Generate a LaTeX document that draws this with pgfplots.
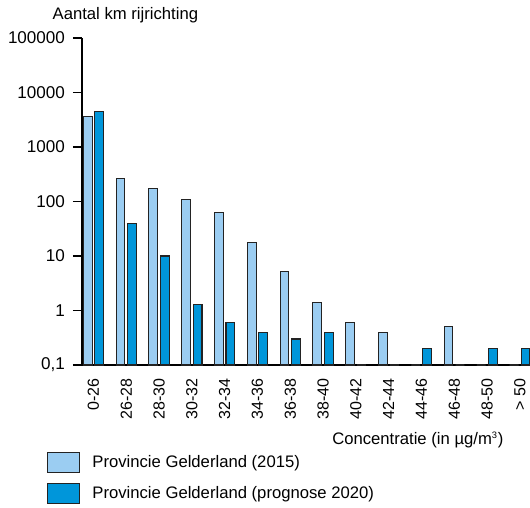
\documentclass[border=0pt]{standalone}
\usepackage{pgfplots}
\pgfplotsset{compat=1.18}
\usepackage{fontspec}
\setmainfont{Liberation Sans}
\definecolor{lightbar}{RGB}{155,205,242}
\definecolor{darkbar}{RGB}{0,150,218}
\definecolor{edge}{RGB}{35,35,35}

\begin{document}
\begin{tikzpicture}
\useasboundingbox (0,0) rectangle (397.5pt,380.25pt);
\begin{axis}[
    at={(61.5pt,106.5pt)}, anchor=south west,
    scale only axis,
    width=336pt, height=245.25pt,
    ymode=log, log origin y=infty,
    ymin=0.1, ymax=100000,
    xmin=-0.35, xmax=13.31,
    ybar=2pt, bar width=6.6pt,
    clip=false,
    axis lines*=left,
    axis line style={line width=1pt, black},
    xtick={0,...,13},
    xticklabels={0-26,26-28,28-30,30-32,32-34,34-36,36-38,38-40,40-42,42-44,44-46,46-48,48-50,> 50},
    xtick style={draw=none},
    xticklabel style={rotate=90, anchor=east, font=\fontsize{12}{14}\selectfont},
    ytick={0.1,1,10,100,1000,10000,100000},
    yticklabels={{0,1},1,10,100,1000,10000,100000},
    ytick style={line width=1pt, black},
    yticklabel style={font=\fontsize{12.8}{15}\selectfont, xshift=-2.5pt},
    yminorticks=false,
    tick align=outside, major tick length=6.75pt,
    ylabel={Aantal km rijrichting},
    ylabel style={rotate=-90, anchor=west, at={(axis description cs:-0.076,1.07)}, font=\fontsize{12.5}{15}\selectfont},
    xlabel={Concentratie (in µg/m\textsuperscript{\scriptsize 3})},
    xlabel style={anchor=east, at={(axis description cs:0.951,-0.229)}, font=\fontsize{12.5}{15}\selectfont},
    legend image code/.code={\draw[#1] (0pt,-7.5pt) rectangle (24pt,7.5pt); \path (31pt,0pt);},
    legend cell align=left,
    legend style={at={(axis description cs:-0.078,-0.266)}, anchor=north west,
        draw=none, fill=none, inner sep=0pt, row sep=7pt,
        font=\fontsize{12.5}{15}\selectfont},
]
\addplot[fill=lightbar, draw=edge, line width=0.8pt] coordinates {
    (0,3700) (1,260) (2,170) (3,110) (4,62) (5,18) (6,5.1)
    (7,1.4) (8,0.6) (9,0.4) (10,0.1) (11,0.5) (12,0.1) (13,0.1)};
\addlegendentry{Provincie Gelderland (2015)}
\addplot[fill=darkbar, draw=edge, line width=0.8pt] coordinates {
    (0,4400) (1,40) (2,10) (3,1.3) (4,0.6) (5,0.4) (6,0.3)
    (7,0.4) (8,0.1) (9,0.1) (10,0.2) (11,0.1) (12,0.2) (13,0.2)};
\addlegendentry{Provincie Gelderland (prognose 2020)}
\end{axis}
\end{tikzpicture}
\end{document}
